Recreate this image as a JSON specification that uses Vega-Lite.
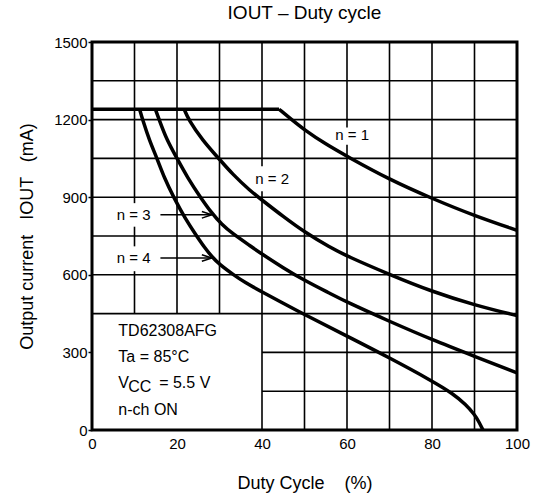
{
  "$schema": "https://vega.github.io/schema/vega-lite/v6.json",
  "width": 425,
  "height": 388,
  "autosize": {"type": "none"},
  "padding": {"left": 92, "top": 42, "right": 21, "bottom": 71},
  "background": "white",
  "title": {
    "text": "IOUT – Duty cycle",
    "font": "Liberation Sans",
    "fontSize": 19,
    "fontWeight": "normal",
    "color": "black",
    "anchor": "middle",
    "offset": 12
  },
  "config": {
    "font": "Liberation Sans",
    "view": {"stroke": "black", "strokeWidth": 3},
    "axis": {
      "labelColor": "black",
      "titleColor": "black",
      "titleFontWeight": "normal",
      "labelFont": "Liberation Sans",
      "titleFont": "Liberation Sans"
    }
  },
  "datasets": {
    "curves": [
      {"series": "flat", "duty": 0, "current": 1240},
      {"series": "flat", "duty": 44, "current": 1240},
      {"series": "n = 1", "duty": 44, "current": 1240},
      {"series": "n = 1", "duty": 47, "current": 1200},
      {"series": "n = 1", "duty": 50, "current": 1160},
      {"series": "n = 1", "duty": 55, "current": 1105},
      {"series": "n = 1", "duty": 60, "current": 1058},
      {"series": "n = 1", "duty": 70, "current": 968},
      {"series": "n = 1", "duty": 80, "current": 895},
      {"series": "n = 1", "duty": 90, "current": 828},
      {"series": "n = 1", "duty": 100, "current": 772},
      {"series": "n = 2", "duty": 21.7, "current": 1240},
      {"series": "n = 2", "duty": 22.7, "current": 1200},
      {"series": "n = 2", "duty": 26, "current": 1120},
      {"series": "n = 2", "duty": 29.8, "current": 1050},
      {"series": "n = 2", "duty": 33, "current": 990},
      {"series": "n = 2", "duty": 37.2, "current": 925},
      {"series": "n = 2", "duty": 40, "current": 889},
      {"series": "n = 2", "duty": 45, "current": 825},
      {"series": "n = 2", "duty": 50, "current": 765},
      {"series": "n = 2", "duty": 56, "current": 706},
      {"series": "n = 2", "duty": 60, "current": 672},
      {"series": "n = 2", "duty": 70, "current": 601},
      {"series": "n = 2", "duty": 80, "current": 535},
      {"series": "n = 2", "duty": 90, "current": 483},
      {"series": "n = 2", "duty": 100, "current": 442},
      {"series": "n = 3", "duty": 14.9, "current": 1240},
      {"series": "n = 3", "duty": 15.8, "current": 1200},
      {"series": "n = 3", "duty": 17.5, "current": 1125},
      {"series": "n = 3", "duty": 20, "current": 1050},
      {"series": "n = 3", "duty": 22.5, "current": 975},
      {"series": "n = 3", "duty": 25.5, "current": 900},
      {"series": "n = 3", "duty": 28.2, "current": 838},
      {"series": "n = 3", "duty": 30.5, "current": 795},
      {"series": "n = 3", "duty": 33, "current": 760},
      {"series": "n = 3", "duty": 37.2, "current": 712},
      {"series": "n = 3", "duty": 40, "current": 680},
      {"series": "n = 3", "duty": 45, "current": 627},
      {"series": "n = 3", "duty": 50, "current": 578},
      {"series": "n = 3", "duty": 56, "current": 528},
      {"series": "n = 3", "duty": 60, "current": 494},
      {"series": "n = 3", "duty": 70, "current": 420},
      {"series": "n = 3", "duty": 80, "current": 349},
      {"series": "n = 3", "duty": 90, "current": 285},
      {"series": "n = 3", "duty": 100, "current": 221},
      {"series": "n = 4", "duty": 11.2, "current": 1240},
      {"series": "n = 4", "duty": 11.9, "current": 1200},
      {"series": "n = 4", "duty": 13.5, "current": 1120},
      {"series": "n = 4", "duty": 15.3, "current": 1050},
      {"series": "n = 4", "duty": 17, "current": 975},
      {"series": "n = 4", "duty": 19.2, "current": 900},
      {"series": "n = 4", "duty": 22, "current": 815},
      {"series": "n = 4", "duty": 24.7, "current": 748},
      {"series": "n = 4", "duty": 26.5, "current": 705},
      {"series": "n = 4", "duty": 28.2, "current": 670},
      {"series": "n = 4", "duty": 30, "current": 640},
      {"series": "n = 4", "duty": 33.3, "current": 600},
      {"series": "n = 4", "duty": 36, "current": 570},
      {"series": "n = 4", "duty": 40, "current": 534},
      {"series": "n = 4", "duty": 45, "current": 490},
      {"series": "n = 4", "duty": 50, "current": 446},
      {"series": "n = 4", "duty": 60, "current": 363},
      {"series": "n = 4", "duty": 70, "current": 279},
      {"series": "n = 4", "duty": 80, "current": 190},
      {"series": "n = 4", "duty": 85, "current": 140},
      {"series": "n = 4", "duty": 88, "current": 98},
      {"series": "n = 4", "duty": 90, "current": 60},
      {"series": "n = 4", "duty": 91, "current": 33},
      {"series": "n = 4", "duty": 92, "current": 0}
    ],
    "grid": [
      {"duty": 10, "duty_end": 10, "current": 450, "current_end": 614},
      {"duty": 10, "duty_end": 10, "current": 710, "current_end": 786},
      {"duty": 10, "duty_end": 10, "current": 877, "current_end": 1500},
      {"duty": 20, "duty_end": 20, "current": 450, "current_end": 1500},
      {"duty": 30, "duty_end": 30, "current": 450, "current_end": 1500},
      {"duty": 40, "duty_end": 40, "current": 0, "current_end": 923},
      {"duty": 40, "duty_end": 40, "current": 1020, "current_end": 1500},
      {"duty": 50, "duty_end": 50, "current": 0, "current_end": 1500},
      {"duty": 60, "duty_end": 60, "current": 0, "current_end": 1103},
      {"duty": 60, "duty_end": 60, "current": 1169, "current_end": 1500},
      {"duty": 70, "duty_end": 70, "current": 0, "current_end": 1500},
      {"duty": 80, "duty_end": 80, "current": 0, "current_end": 1500},
      {"duty": 90, "duty_end": 90, "current": 0, "current_end": 1500},
      {"duty": 40, "duty_end": 100, "current": 150, "current_end": 150},
      {"duty": 40, "duty_end": 100, "current": 300, "current_end": 300},
      {"duty": 0, "duty_end": 100, "current": 450, "current_end": 450},
      {"duty": 0, "duty_end": 100, "current": 600, "current_end": 600},
      {"duty": 0, "duty_end": 100, "current": 750, "current_end": 750},
      {"duty": 0, "duty_end": 100, "current": 900, "current_end": 900},
      {"duty": 0, "duty_end": 100, "current": 1050, "current_end": 1050},
      {"duty": 0, "duty_end": 100, "current": 1200, "current_end": 1200},
      {"duty": 0, "duty_end": 100, "current": 1350, "current_end": 1350}
    ],
    "arrows": [
      {"series": "n = 3", "duty": 16.1, "duty_end": 28.2, "current": 832},
      {"series": "n = 4", "duty": 16.1, "duty_end": 28.2, "current": 665}
    ],
    "labels": [
      {"text": "n = 1", "duty": 61.2, "current": 1139},
      {"text": "n = 2", "duty": 42.4, "current": 972},
      {"text": "n = 3", "duty": 9.8, "current": 832},
      {"text": "n = 4", "duty": 9.8, "current": 665}
    ],
    "notes": [
      {"text": "TD62308AFG", "part": "main", "duty": 6.2, "current": 384},
      {"text": "Ta = 85°C", "part": "main", "duty": 6.2, "current": 283},
      {"text": "V", "part": "main", "duty": 6.2, "current": 182},
      {"text": "CC", "part": "sub", "duty": 8.5, "current": 182},
      {"text": "= 5.5 V", "part": "main", "duty": 15.8, "current": 182},
      {"text": "n-ch ON", "part": "main", "duty": 6.2, "current": 76}
    ]
  },
  "layer": [
    {
      "data": {"name": "grid"},
      "mark": {"type": "rule", "color": "black", "strokeWidth": 1.6},
      "encoding": {
        "x": {
          "field": "duty",
          "type": "quantitative",
          "scale": {"domain": [0, 100], "nice": false, "zero": false},
          "title": "Duty Cycle \u00a0\u00a0\u00a0(%)",
          "axis": {
            "values": [0, 20, 40, 60, 80, 100],
            "format": "d",
            "grid": false,
            "domain": false,
            "ticks": false,
            "labelFlush": false,
            "labelFontSize": 15,
            "labelPadding": 6,
            "titleFontSize": 18,
            "titlePadding": 23
          }
        },
        "x2": {"field": "duty_end"},
        "y": {
          "field": "current",
          "type": "quantitative",
          "scale": {"domain": [0, 1500], "nice": false, "zero": false},
          "title": "Output current \u00a0\u00a0IOUT \u00a0\u00a0(mA)",
          "axis": {
            "values": [0, 300, 600, 900, 1200, 1500],
            "format": "d",
            "grid": false,
            "domain": false,
            "ticks": true,
            "tickSize": 4,
            "tickWidth": 1.5,
            "tickColor": "black",
            "labelFlush": false,
            "labelFontSize": 15,
            "labelPadding": 1,
            "titleFontSize": 18,
            "titlePadding": 17
          }
        },
        "y2": {"field": "current_end"}
      }
    },
    {
      "data": {"name": "curves"},
      "mark": {"type": "line", "color": "black", "strokeWidth": 3.5, "interpolate": "basis", "strokeJoin": "round"},
      "encoding": {
        "x": {"field": "duty", "type": "quantitative", "title": "Duty Cycle \u00a0\u00a0\u00a0(%)"},
        "y": {"field": "current", "type": "quantitative", "title": "Output current \u00a0\u00a0IOUT \u00a0\u00a0(mA)"},
        "detail": {"field": "series"}
      }
    },
    {
      "data": {"name": "arrows"},
      "mark": {"type": "rule", "color": "black", "strokeWidth": 1.5},
      "encoding": {
        "x": {"field": "duty", "type": "quantitative", "title": "Duty Cycle \u00a0\u00a0\u00a0(%)"},
        "x2": {"field": "duty_end"},
        "y": {"field": "current", "type": "quantitative", "title": "Output current \u00a0\u00a0IOUT \u00a0\u00a0(mA)"}
      }
    },
    {
      "data": {"name": "arrows"},
      "mark": {"type": "point", "shape": "M-1,-0.33L0,0L-1,0.33", "filled": false, "color": "black", "strokeWidth": 1.5, "size": 400, "opacity": 1},
      "encoding": {
        "x": {"field": "duty_end", "type": "quantitative", "title": "Duty Cycle \u00a0\u00a0\u00a0(%)"},
        "y": {"field": "current", "type": "quantitative", "title": "Output current \u00a0\u00a0IOUT \u00a0\u00a0(mA)"}
      }
    },
    {
      "data": {"name": "labels"},
      "mark": {"type": "text", "fontSize": 15, "color": "black", "align": "center", "baseline": "middle"},
      "encoding": {
        "x": {"field": "duty", "type": "quantitative", "title": "Duty Cycle \u00a0\u00a0\u00a0(%)"},
        "y": {"field": "current", "type": "quantitative", "title": "Output current \u00a0\u00a0IOUT \u00a0\u00a0(mA)"},
        "text": {"field": "text"}
      }
    },
    {
      "data": {"name": "notes"},
      "transform": [{"filter": "datum.part === 'main'"}],
      "mark": {"type": "text", "fontSize": 16, "color": "black", "align": "left", "baseline": "middle"},
      "encoding": {
        "x": {"field": "duty", "type": "quantitative", "title": "Duty Cycle \u00a0\u00a0\u00a0(%)"},
        "y": {"field": "current", "type": "quantitative", "title": "Output current \u00a0\u00a0IOUT \u00a0\u00a0(mA)"},
        "text": {"field": "text"}
      }
    },
    {
      "data": {"name": "notes"},
      "transform": [{"filter": "datum.part === 'sub'"}],
      "mark": {"type": "text", "fontSize": 16, "color": "black", "align": "left", "baseline": "middle", "dy": 4.5},
      "encoding": {
        "x": {"field": "duty", "type": "quantitative", "title": "Duty Cycle \u00a0\u00a0\u00a0(%)"},
        "y": {"field": "current", "type": "quantitative", "title": "Output current \u00a0\u00a0IOUT \u00a0\u00a0(mA)"},
        "text": {"field": "text"}
      }
    }
  ]
}
